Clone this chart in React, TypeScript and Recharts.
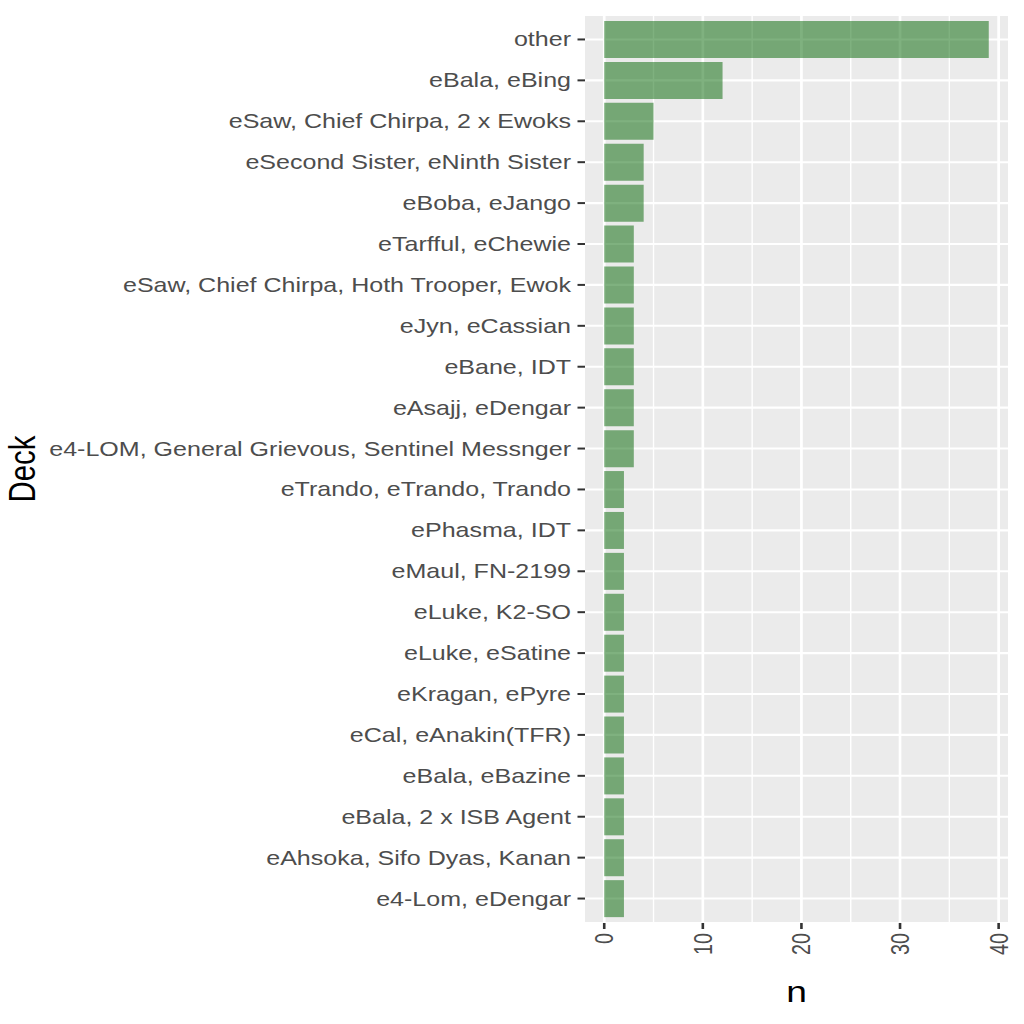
import React from "react";
import { BarChart, Bar, XAxis, YAxis, CartesianGrid } from "recharts";

// deck names, top to bottom as they appear
const decks = [
  "other",
  "eBala, eBing",
  "eSaw, Chief Chirpa, 2 x Ewoks",
  "eSecond Sister, eNinth Sister",
  "eBoba, eJango",
  "eTarfful, eChewie",
  "eSaw, Chief Chirpa, Hoth Trooper, Ewok",
  "eJyn, eCassian",
  "eBane, IDT",
  "eAsajj, eDengar",
  "e4-LOM, General Grievous, Sentinel Messnger",
  "eTrando, eTrando, Trando",
  "ePhasma, IDT",
  "eMaul, FN-2199",
  "eLuke, K2-SO",
  "eLuke, eSatine",
  "eKragan, ePyre",
  "eCal, eAnakin(TFR)",
  "eBala, eBazine",
  "eBala, 2 x ISB Agent",
  "eAhsoka, Sifo Dyas, Kanan",
  "e4-Lom, eDengar",
];
const counts = [39, 12, 5, 4, 4, 3, 3, 3, 3, 3, 3, 2, 2, 2, 2, 2, 2, 2, 2, 2, 2, 2];
const xTicks = [0, 10, 20, 30, 40];
const xMinor = [5, 15, 25, 35];

const data = decks.map((deck, i) => ({ deck, n: counts[i] }));

// the reference is stretched horizontally, so text gets a horizontal scale too
const SX = 1.265;
const FONT = "'Liberation Sans', Arial, sans-serif";

const YTick = ({ x, y, payload }: any) => (
  <text
    transform={`translate(${x},${y}) scale(${SX},1)`}
    textAnchor="end"
    dy="0.355em"
    fontSize={19.8}
    fontFamily={FONT}
    fill="#4d4d4d"
  >
    {payload.value}
  </text>
);

const XTick = ({ x, payload }: any) => (
  <text
    transform={`translate(${x},933) scale(${SX},1) rotate(-90)`}
    textAnchor="end"
    dy="0.355em"
    fontSize={19.8}
    fontFamily={FONT}
    fill="#4d4d4d"
  >
    {payload.value}
  </text>
);

const XTitle = ({ viewBox }: any) => (
  <text
    transform={`translate(${viewBox.x + viewBox.width / 2},1002) scale(${SX},1)`}
    textAnchor="middle"
    fontSize={29.4}
    fontFamily={FONT}
    fill="#000"
  >
    n
  </text>
);

const YTitle = ({ viewBox }: any) => (
  <text
    transform={`translate(22,${viewBox.y + viewBox.height / 2}) scale(${SX},1) rotate(-90)`}
    textAnchor="middle"
    dy="0.355em"
    fontSize={29.4}
    fontFamily={FONT}
    fill="#000"
  >
    Deck
  </text>
);

export default function App() {
  return (
    <div style={{ position: "absolute", left: 0, top: 0, background: "#fff" }}>
      <BarChart
        layout="vertical"
        width={1024}
        height={1024}
        data={data}
        margin={{ top: 15, right: 16, left: 0, bottom: 0 }}
        barCategoryGap="5%"
      >
        <CartesianGrid
          fill="#ebebeb"
          fillOpacity={1}
          stroke="#fff"
          strokeWidth={1.4}
          horizontal={false}
          verticalValues={xMinor}
        />
        <CartesianGrid stroke="#fff" strokeWidth={2.7} horizontal={false} verticalValues={xTicks} />
        <CartesianGrid stroke="#fff" strokeWidth={2.1} vertical={false} />
        <XAxis
          type="number"
          dataKey="n"
          domain={[-1.95, 40.95]}
          ticks={xTicks}
          height={101}
          axisLine={false}
          tickSize={6}
          tickLine={{ stroke: "#333", strokeWidth: 2.6 }}
          tick={<XTick />}
          label={<XTitle />}
        />
        <YAxis
          type="category"
          dataKey="deck"
          width={585}
          interval={0}
          padding={{ top: 4, bottom: 4 }}
          axisLine={false}
          tickSize={7.5}
          tickMargin={6.5}
          tickLine={{ stroke: "#333", strokeWidth: 2 }}
          tick={<YTick />}
          label={<YTitle />}
        />
        <Bar dataKey="n" fill="#006400" fillOpacity={0.5} isAnimationActive={false} />
      </BarChart>
    </div>
  );
}
